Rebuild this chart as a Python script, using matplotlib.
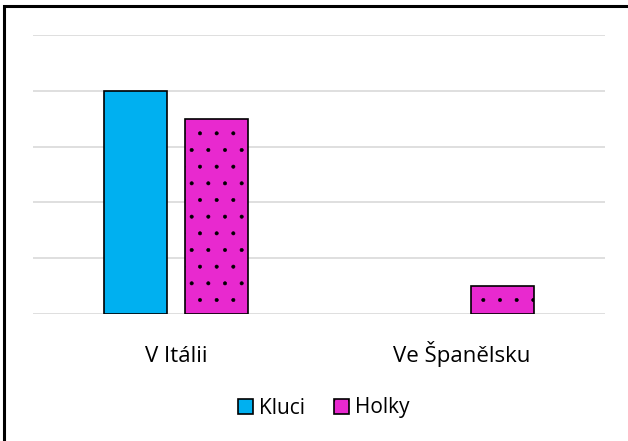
import numpy as np
import matplotlib.pyplot as plt
from matplotlib.patches import Rectangle

categories = ['V Itálii', 'Ve Španělsku']
kluci = [4, 0]
holky = [3.5, 0.5]

plt.rcParams['font.family'] = ['Open Sans', 'DejaVu Sans']
plt.rcParams['hatch.linewidth'] = 0.4

W, H = 628, 441
fig = plt.figure(figsize=(W / 100, H / 100), dpi=100)

# outer frame (right and bottom edges fall off the picture)
fig.patches.append(Rectangle((4 / W, -0.1), 1.2, 1 - 6 / H + 0.1, transform=fig.transFigure,
                             fill=False, edgecolor='black', linewidth=2.2))

ax = fig.add_axes([33 / W, 1 - 314 / H, (605 - 33) / W, (314 - 35) / H])

x = np.arange(len(categories))
bw = 0.22
gap = 0.063
kluci_plot = [v if v > 0 else np.nan for v in kluci]
ax.bar(x - (bw + gap) / 2, kluci_plot, bw, color='#00B0F0', edgecolor='black', linewidth=1.2,
       label='Kluci', zorder=3)
ax.bar(x + (bw + gap) / 2, holky, bw, color='#E829CF', edgecolor='black', linewidth=1.2,
       hatch='.', label='Holky', zorder=3)

ax.set_xlim(-0.5, 1.5)
ax.set_ylim(0, 5)
ax.set_yticks(np.arange(0, 5.5, 1))
ax.yaxis.grid(True, color='#D9D9D9', linewidth=1.2, zorder=0)
ax.tick_params(left=False, labelleft=False, bottom=False)
ax.set_xticks(x)
ax.set_xticklabels(categories, fontsize=16)
ax.tick_params(axis='x', pad=31)
for lab in ax.get_xticklabels():
    lab.set_va('baseline')
for s in ['top', 'right', 'left', 'bottom']:
    ax.spines[s].set_visible(False)

fig.legend(loc='center', bbox_to_anchor=(324 / W, 1 - 408 / H), ncol=2, frameon=False,
           fontsize=15, handlelength=0.7, handleheight=0.7, handletextpad=0.3,
           columnspacing=1.4)

fig.savefig('out.png', dpi=100)
